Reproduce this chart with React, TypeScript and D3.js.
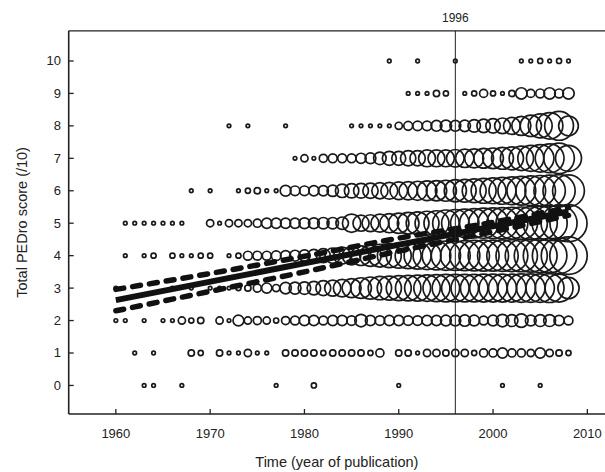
import React from "react";
import * as d3 from "d3";

// Publication years 1960..2008 (one value per year)
const startYear = 1960;
const endYear = 2008;

// Number of trials per year for each total PEDro score
const score0 = [0,0,0,1,1,0,0,1,0,0, 0,0,0,0,0,0,0,1,0,0, 0,2,0,0,0,0,0,0,0,0, 1,0,0,0,0,0,0,0,0,0, 0,1,0,0,0,1,0,0,0];
const score1 = [0,0,1,0,1,0,0,0,3,2, 0,3,1,1,4,1,1,0,3,3, 3,3,2,3,3,3,3,2,5,0, 3,3,1,4,4,3,4,4,2,5, 5,8,5,5,4,8,4,3,2];
const score2 = [1,1,0,1,0,1,1,4,2,3, 0,4,1,9,4,5,4,2,5,6, 8,8,6,8,8,7,12,8,7,8, 8,7,7,8,8,9,9,10,9,6, 9,12,11,14,9,11,11,8,6];
const score3 = [1,0,0,0,0,0,1,0,1,0, 1,1,1,2,3,5,8,4,10,11, 12,14,17,20,24,28,33,38,42,45, 48,50,52,54,56,58,58,58,58,60, 60,60,60,62,62,62,64,60,35];
const score4 = [0,1,0,1,2,0,2,1,1,2, 2,0,1,2,6,6,6,7,8,9, 10,12,15,18,22,26,30,35,40,44, 48,52,56,60,63,66,68,70,72,74, 74,76,78,80,84,88,92,98,108];
const score5 = [0,1,1,1,1,1,1,1,0,0, 4,1,4,4,4,5,8,8,8,8, 9,9,10,10,12,26,20,22,25,28, 32,36,40,44,48,54,58,62,66,70, 72,75,78,81,85,90,95,100,106];
const score6 = [0,0,0,0,0,0,0,0,1,0, 1,0,0,1,2,3,1,1,9,7, 7,8,8,10,14,16,17,18,20,22, 24,26,28,30,32,34,38,40,44,48, 52,56,60,64,68,72,76,80,78];
const score7 = [0,0,0,0,0,0,0,0,0,0, 0,0,0,0,0,0,0,0,0,1, 4,1,5,6,6,6,8,9,12,15, 15,18,18,22,22,22,24,26,28,30, 33,37,41,46,52,58,64,72,52];
const score8 = [0,0,0,0,0,0,0,0,0,0, 0,0,1,0,1,0,0,0,1,0, 0,0,0,0,0,1,1,1,1,1, 4,6,7,7,9,10,9,10,12,14, 16,19,22,28,35,44,54,64,30];
const score9 = [0,0,0,0,0,0,0,0,0,0, 0,0,0,0,0,0,0,0,0,0, 0,0,0,0,0,0,0,0,0,0, 0,1,1,1,3,2,0,1,2,5, 2,1,3,10,5,6,10,6,10];
const score10 = [0,0,0,0,0,0,0,0,0,0, 0,0,0,0,0,0,0,0,0,0, 0,0,0,0,0,0,0,0,0,1, 0,0,1,0,0,0,1,0,0,0, 0,0,0,1,1,2,1,2,1];

const scoreRows = [score0, score1, score2, score3, score4, score5, score6, score7, score8, score9, score10];

// Regression line and its confidence band (year, score)
const fitLine: [number, number][] = [[1960, 2.63], [2008, 5.36]];
const upperBand: [number, number][] = [[1960, 2.96], [1970, 3.45], [1980, 3.98], [1990, 4.54], [2000, 5.03], [2008, 5.48]];
const lowerBand: [number, number][] = [[1960, 2.3], [1970, 2.9], [1980, 3.5], [1990, 4.14], [2000, 4.74], [2008, 5.24]];

const xTicks = [1960, 1970, 1980, 1990, 2000, 2010];
const yTicks = [0, 1, 2, 3, 4, 5, 6, 7, 8, 9, 10];
const markerYear = 1996;

const W = 605, H = 472;
const left = 68.7, right = 610, top = 30.8, bottom = 414;

export default function App() {
  const x = d3.scaleLinear().domain([1955, 1955 + (right - left) / 9.43]).range([left, right]);
  const y = d3.scaleLinear().domain([-0.88, 10.93]).range([bottom, top]);
  const r = d3.scaleSqrt().domain([0, 100]).range([0, 18]);
  const years = d3.range(startYear, endYear + 1);

  const line = d3.line<[number, number]>().x(d => x(d[0])).y(d => y(d[1]));
  const curve = d3.line<[number, number]>().x(d => x(d[0])).y(d => y(d[1])).curve(d3.curveMonotoneX);

  const font = "'Liberation Sans', Arial, sans-serif";

  return (
    <svg width={W} height={H} style={{ position: "absolute", left: 0, top: 0, background: "#fff" }} fontFamily={font}>
      <rect x={0} y={0} width={W} height={H} fill="#fff" />
      <g>
        {scoreRows.map((row, s) =>
          row.map((n, i) =>
            n > 0 ? (
              <circle key={`${s}-${i}`} cx={x(years[i])} cy={y(s)} r={r(n)} fill="none" stroke="#1a1a1a" strokeWidth={1.7} />
            ) : null
          )
        )}
      </g>
      <path d={curve(upperBand) || ""} fill="none" stroke="#111" strokeWidth={5.5} strokeDasharray="8 9" strokeLinecap="round" />
      <path d={curve(lowerBand) || ""} fill="none" stroke="#111" strokeWidth={5.5} strokeDasharray="8 9" strokeLinecap="round" />
      <path d={line(fitLine) || ""} fill="none" stroke="#111" strokeWidth={6} />

      {/* frame */}
      <line x1={left} x2={right} y1={top} y2={top} stroke="#222" strokeWidth={1.3} />
      <line x1={left} x2={left} y1={top} y2={bottom} stroke="#222" strokeWidth={1.6} />
      <line x1={left} x2={right} y1={bottom} y2={bottom} stroke="#222" strokeWidth={1.6} />
      <line x1={x(markerYear)} x2={x(markerYear)} y1={top} y2={bottom} stroke="#222" strokeWidth={1} />
      <text x={x(markerYear)} y={22} fontSize={12} textAnchor="middle" fill="#222">{markerYear}</text>

      {xTicks.map(t => (
        <g key={t}>
          <line x1={x(t)} x2={x(t)} y1={bottom} y2={bottom - 5} stroke="#222" strokeWidth={1.3} />
          <text x={x(t)} y={438} fontSize={13} textAnchor="middle" fill="#222">{t}</text>
        </g>
      ))}
      {yTicks.map(t => (
        <g key={t}>
          <line x1={left} x2={left + 5} y1={y(t)} y2={y(t)} stroke="#222" strokeWidth={1.3} />
          <text x={61} y={y(t) + 4.5} fontSize={13} textAnchor="end" fill="#222">{t}</text>
        </g>
      ))}
      <text x={(left + 605) / 2} y={467} fontSize={14.5} textAnchor="middle" fill="#222">Time (year of publication)</text>
      <text transform={`translate(27,${(top + bottom) / 2}) rotate(-90)`} fontSize={14.5} textAnchor="middle" fill="#222">Total PEDro score (/10)</text>
    </svg>
  );
}
